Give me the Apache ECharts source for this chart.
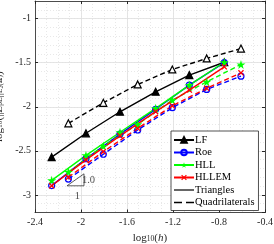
<!DOCTYPE html>
<html><head><meta charset="utf-8">
<script src="https://cdn.jsdelivr.net/npm/echarts@6/dist/echarts.min.js"></script>
<style>html,body{margin:0;padding:0;background:#fff}#c{width:274px;height:244px}</style>
</head><body><div id="c"></div>
<script>
// x positions: log10(h)
const triH  = [-2.255, -1.957, -1.661, -1.351, -1.058, -0.754];
const quadH = [-2.110, -1.806, -1.507, -1.206, -0.907, -0.609];
// log10 errors
const lfTri    = [-2.572, -2.301, -2.057, -1.830, -1.641, -1.495];
const lfQuad   = [-2.188, -1.955, -1.747, -1.577, -1.452, -1.340];
const roeTri   = [-2.895, -2.590, -2.310, -2.029, -1.754, -1.500];
const roeQuad  = [-2.821, -2.539, -2.264, -2.011, -1.803, -1.653];
const hllTri   = [-2.835, -2.552, -2.289, -2.018, -1.754, -1.495];
const hllQuad  = [-2.740, -2.445, -2.200, -1.924, -1.717, -1.520];
const hllemTri = [-2.897, -2.603, -2.330, -2.056, -1.811, -1.547];
const hllemQuad= [-2.800, -2.510, -2.245, -1.990, -1.790, -1.615];
const xTicks = ['-2.4','-2','-1.6','-1.2','-0.8','-0.4'];
const yTicks = ['-3','-2.5','-2','-1.5','-1'];
const slopeTri = [[-2.122,-2.897],[-1.974,-2.761],[-1.974,-2.897],[-2.122,-2.897]];
const slopeLabels = [{v:[-1.935,-2.83], t:'1.0'}, {v:[-2.032,-3.02], t:'1'}];

const zip = (xs, ys) => xs.map((x,i)=>[x, ys[i]]);
const STAR = 'path://M50,0 L61,35 98,35 68,57 79,91 50,70 21,91 32,57 2,35 39,35 Z';
const XMARK = 'path://M0,1.5 L1.5,0 L5,3.5 L8.5,0 L10,1.5 L6.5,5 L10,8.5 L8.5,10 L5,6.5 L1.5,10 L0,8.5 L3.5,5 Z';
const SOLID_ICON = 'path://M0,4.4 L20,4.4 L20,5.6 L0,5.6 Z';
const DASH_ICON = 'path://M0,4.4 L6,4.4 L6,5.6 L0,5.6 Z M9,4.4 L15,4.4 L15,5.6 L9,5.6 Z';
const SERIF = '"Liberation Serif","DejaVu Serif",serif';

function fmt(list){ return v => { const s = list.find(t => Math.abs(parseFloat(t)-v) < 1e-6); return s === undefined ? '' : s; }; }

function mk(name, data, color, dashed, symbol, size, fill){
  return {
    name, type:'line', data, xAxisIndex:0, yAxisIndex:0,
    symbol, symbolSize:size, showSymbol:true,
    lineStyle:{color, width:1.4, type: dashed ? [5,3] : 'solid'},
    itemStyle:{color: fill, borderColor: color, borderWidth: (symbol==='circle'||symbol==='triangle') ? 1.2 : 0},
    emphasis:{disabled:true}, animation:false, z:3
  };
}

const series = [
  mk('LF',  zip(triH, lfTri), '#000', false, 'triangle', 7, '#000'),
  mk('LF-q',zip(quadH, lfQuad), '#000', true, 'triangle', 7, '#fff'),
  mk('Roe', zip(triH, roeTri), '#0000ff', false, 'circle', 6, 'rgba(255,255,255,0)'),
  mk('Roe-q', zip(quadH, roeQuad), '#0000ff', true, 'circle', 6, 'rgba(255,255,255,0)'),
  mk('HLL', zip(triH, hllTri), '#00ff00', false, STAR, 9, '#00ff00'),
  mk('HLL-q', zip(quadH, hllQuad), '#00ff00', true, STAR, 9, '#00ff00'),
  mk('HLLEM', zip(triH, hllemTri), '#ff0000', false, XMARK, 6, '#ff0000'),
  mk('HLLEM-q', zip(quadH, hllemQuad), '#ff0000', true, XMARK, 6, '#ff0000'),
  {name:'Triangles', type:'line', data:[], symbol:'none', lineStyle:{color:'#000', width:1}, itemStyle:{color:'#000'}},
  {name:'Quadrilaterals', type:'line', data:[], symbol:'none', lineStyle:{color:'#000', width:1, type:[5,3]}, itemStyle:{color:'#000'}},
  {type:'line', data:slopeTri, symbol:'none', lineStyle:{color:'#333', width:0.8}, silent:true, z:2, animation:false},
  {type:'scatter', data:slopeLabels.map(o=>({value:o.v, label:{formatter:o.t}})), symbolSize:0, silent:true, animation:false,
   label:{show:true, position:'inside', color:'#222', fontFamily:SERIF, fontSize:10.5}}
];

const axisCol = '#262626';
const option = {
  animation:false,
  grid:{left:35, right:9, top:1, bottom:31.5, containLabel:false, outerBoundsMode:'none'},
  xAxis:[
    {type:'value', min:-2.4, max:-0.4, interval:0.4, position:'bottom',
     axisLine:{lineStyle:{color:axisCol, width:0.8}}, axisTick:{inside:true, length:3, lineStyle:{color:axisCol}},
     axisLabel:{formatter:fmt(xTicks), color:'#262626', fontFamily:SERIF, fontSize:10, margin:5, hideOverlap:false},
     splitLine:{show:true, lineStyle:{color:'#dedede', width:0.8}},
     name:'{n|log}{s|10}{n|(}{i|h}{n|)}', nameLocation:'middle', nameGap:17,
     nameTextStyle:{fontFamily:SERIF, color:'#262626', rich:{
       n:{fontFamily:SERIF, fontSize:11, color:'#262626', verticalAlign:'bottom', lineHeight:14},
       i:{fontFamily:SERIF, fontSize:11, fontStyle:'italic', color:'#262626', verticalAlign:'bottom', lineHeight:14},
       s:{fontFamily:SERIF, fontSize:7.5, color:'#262626', verticalAlign:'bottom', lineHeight:9}}}},
    {type:'value', min:-2.4, max:-0.4, interval:0.1, position:'bottom', axisLine:{show:false}, axisTick:{show:false},
     axisLabel:{show:false}, splitLine:{show:true, lineStyle:{color:'#e2e2e2', width:0.8, type:[1,2]}}},
    {type:'value', min:-2.4, max:-0.4, interval:0.4, position:'top',
     axisLine:{lineStyle:{color:axisCol, width:0.8}}, axisTick:{inside:true, length:3, lineStyle:{color:axisCol}},
     axisLabel:{show:false}, splitLine:{show:false}}
  ],
  yAxis:[
    {type:'value', min:-3.2, max:-0.8, splitNumber:5, position:'left',
     axisLine:{lineStyle:{color:axisCol, width:0.8}}, axisTick:{inside:true, length:3, lineStyle:{color:axisCol}},
     axisLabel:{formatter:fmt(yTicks), showMinLabel:false, showMaxLabel:false, color:'#262626', fontFamily:SERIF, fontSize:10, margin:4},
     splitLine:{show:true, lineStyle:{color:'#dedede', width:0.8}},
     name:'{n|log}{s|10}{n|(||}{i|E}{s|ρE}{n|||}{s|L}{ss|2}{s|(Ω)}{n|)}', nameLocation:'middle', nameGap:20, nameRotate:90,
     nameTextStyle:{fontFamily:SERIF, color:'#262626', rich:{
       n:{fontFamily:SERIF, fontSize:11, color:'#262626', verticalAlign:'bottom', lineHeight:14},
       i:{fontFamily:SERIF, fontSize:11, fontStyle:'italic', color:'#262626', verticalAlign:'bottom', lineHeight:14},
       s:{fontFamily:SERIF, fontSize:7.5, color:'#262626', verticalAlign:'bottom', lineHeight:9},
       ss:{fontFamily:SERIF, fontSize:5.5, color:'#262626', verticalAlign:'bottom', lineHeight:12}}}},
    {type:'value', min:-3.2, max:-0.8, interval:0.1, position:'left', axisLine:{show:false}, axisTick:{show:false},
     axisLabel:{show:false}, splitLine:{show:true, lineStyle:{color:'#e2e2e2', width:0.8, type:[1,2]}}},
    {type:'value', min:-3.2, max:-0.8, splitNumber:5, position:'right',
     axisLine:{lineStyle:{color:axisCol, width:0.8}}, axisTick:{inside:true, length:3, lineStyle:{color:axisCol}},
     axisLabel:{show:false}, splitLine:{show:false}}
  ],
  legend:{
    data:['LF','Roe','HLL','HLLEM',{name:'Triangles', icon:SOLID_ICON},{name:'Quadrilaterals', icon:DASH_ICON}],
    orient:'vertical', left:171, top:131, itemWidth:20, itemHeight:7, itemGap:0.5,
    padding:[3,4,2,2], borderColor:axisCol, borderWidth:0.8, backgroundColor:'#fff',
    textStyle:{fontFamily:SERIF, fontSize:10.5, lineHeight:12, color:'#000', padding:[0,0,0,-4]},
    selectedMode:false
  },
  series
};
const chart = echarts.init(document.getElementById('c'), null, {renderer:'canvas'});
chart.setOption(option);
</script></body></html>
